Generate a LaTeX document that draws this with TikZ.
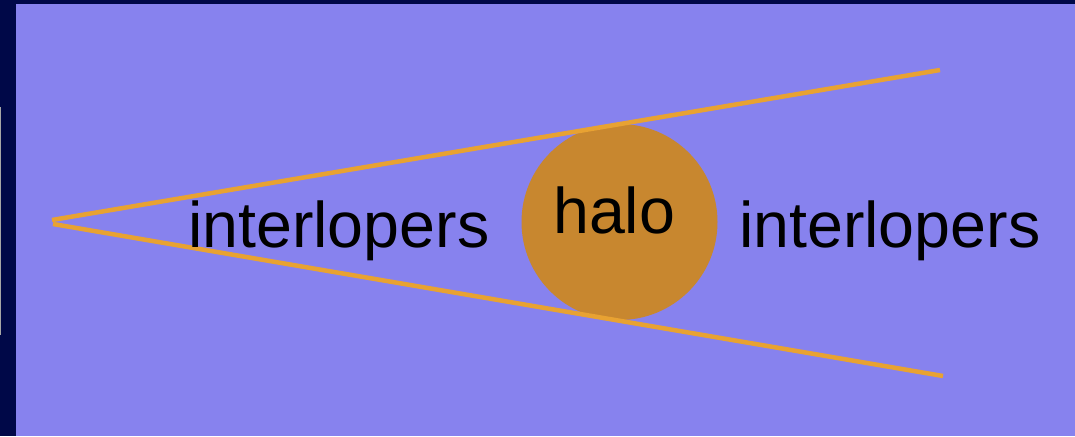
\documentclass[tikz,border=0pt]{standalone}
\usepackage{fontspec}
\setmainfont{Liberation Sans}
\definecolor{bgpurple}{HTML}{8782EE}
\definecolor{navy}{HTML}{000848}
\definecolor{conecol}{HTML}{E8A232}
\definecolor{halocol}{HTML}{C8872F}
\tikzset{
  cone/.style={draw=conecol, line width=4.5pt},
  label/.style={inner sep=0pt, anchor=base west, font=\fontsize{64.5}{70}\selectfont, text=black},
}
\begin{document}
\begin{tikzpicture}[x=1pt,y=-1pt]
\useasboundingbox (0,0) rectangle (1075,436);
\fill[navy] (0,0) rectangle (1075,436);
\fill[bgpurple] (16,4) rectangle (1075,436);
\draw[gray!70, line width=1.2pt] (0.6,107) -- (0.6,335);
\node[circle, fill=halocol, minimum size=196pt, inner sep=0pt] (halodisk) at (619.5,222) {};
\coordinate (apexA) at (52,220);
\coordinate (apexB) at (53,224);
\coordinate (endUp) at (940,70);
\coordinate (endDown) at (943,376);
\draw[cone] (apexA) -- (endUp);
\draw[cone] (apexB) -- (endDown);
\node[label] (leftint) at (188,247) {interlopers};
\node[label] (halotxt) at (553,233) {halo};
\node[label] (rightint) at (739,247) {interlopers};
\end{tikzpicture}
\end{document}
